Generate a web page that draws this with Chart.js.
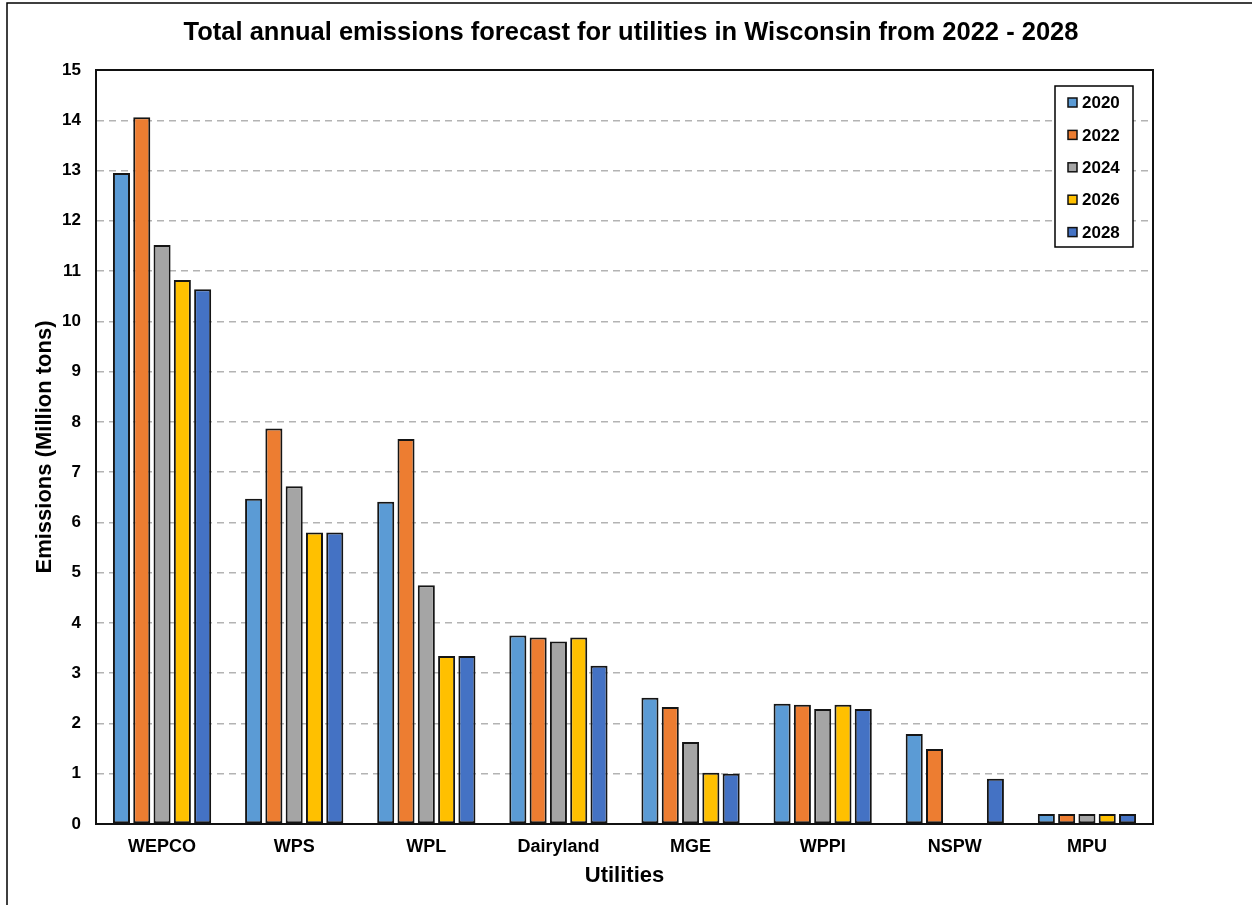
<!DOCTYPE html>
<html><head><meta charset="utf-8">
<script src="https://cdn.jsdelivr.net/npm/chart.js@4"></script>
<style>html,body{margin:0;padding:0;background:#fff;} #wrap{position:relative;width:1252px;height:905px;}</style>
</head><body><div id="wrap"><canvas id="c" width="1252" height="905"></canvas></div>
<script>
const titleText = 'Total annual emissions forecast for utilities in Wisconsin from 2022 - 2028';
const xTitle = 'Utilities';
const yTitle = 'Emissions (Million tons)';
const categories = ['WEPCO', 'WPS', 'WPL', 'Dairyland', 'MGE', 'WPPI', 'NSPW', 'MPU'];
const years = ['2020', '2022', '2024', '2026', '2028'];
const values2020 = [12.95, 6.47, 6.41, 3.75, 2.51, 2.39, 1.79, 0.20];
const values2022 = [14.06, 7.87, 7.66, 3.71, 2.33, 2.37, 1.49, 0.20];
const values2024 = [11.52, 6.72, 4.75, 3.63, 1.63, 2.29, null, 0.20];
const values2026 = [10.82, 5.80, 3.34, 3.71, 1.02, 2.37, null, 0.20];
const values2028 = [10.64, 5.80, 3.34, 3.15, 1.00, 2.29, 0.90, 0.20];
const yMin = 0, yMax = 15, yStep = 1;

const seriesValues = [values2020, values2022, values2024, values2026, values2028];
const colors = ['#5B9BD5', '#ED7D31', '#A5A5A5', '#FFC000', '#4472C4'];
const FONT = "'Liberation Sans', Arial, sans-serif";
Chart.defaults.font.family = FONT;
Chart.defaults.color = '#000';

const framePlugin = {
  id: 'frame',
  beforeDraw(chart) {
    const ctx = chart.ctx;
    ctx.save();
    ctx.fillStyle = '#fff';
    ctx.fillRect(0, 0, chart.width, chart.height);
    ctx.strokeStyle = '#000';
    ctx.lineWidth = 1.5;
    ctx.beginPath();
    ctx.moveTo(7, chart.height);
    ctx.lineTo(7, 3);
    ctx.lineTo(chart.width, 3);
    ctx.stroke();
    ctx.restore();
  },
  afterDatasetsDraw(chart) {
    const a = chart.chartArea, ctx = chart.ctx;
    ctx.save();
    ctx.strokeStyle = '#111';
    ctx.lineWidth = 2;
    ctx.strokeRect(a.left, a.top, a.right - a.left, a.bottom - a.top);
    ctx.restore();
  },
  afterDraw(chart) {
    const ctx = chart.ctx, a = chart.chartArea;
    ctx.save();
    // title
    ctx.fillStyle = '#000';
    ctx.font = "bold 25.5px " + FONT;
    ctx.textAlign = 'center';
    ctx.textBaseline = 'middle';
    ctx.fillText(titleText, 631, 33);
    // legend
    const bx = a.right - 98, by = a.top + 16, bw = 78, bh = 161;
    ctx.fillStyle = '#fff';
    ctx.fillRect(bx, by, bw, bh);
    ctx.strokeStyle = '#000';
    ctx.lineWidth = 1.5;
    ctx.strokeRect(bx, by, bw, bh);
    ctx.font = "bold 17px " + FONT;
    ctx.textAlign = 'left';
    chart.data.datasets.forEach((ds, i) => {
      const cy = by + 16.5 + i * 32.4;
      ctx.fillStyle = ds.backgroundColor;
      ctx.fillRect(bx + 13, cy - 4.5, 9, 9);
      ctx.strokeStyle = '#111';
      ctx.lineWidth = 1.5;
      ctx.strokeRect(bx + 13, cy - 4.5, 9, 9);
      ctx.fillStyle = '#000';
      ctx.fillText(ds.label, bx + 27, cy + 1);
    });
    ctx.restore();
  }
};

new Chart(document.getElementById('c'), {
  type: 'bar',
  data: {
    labels: categories,
    datasets: years.map((y, i) => ({
      label: y,
      data: seriesValues[i],
      backgroundColor: colors[i],
      borderColor: '#151515',
      borderWidth: 2,
      borderSkipped: false,
      barPercentage: 0.84,
      categoryPercentage: 0.768
    }))
  },
  options: {
    responsive: false,
    animation: false,
    devicePixelRatio: 1,
    layout: { padding: { top: 70, right: 99, left: 0, bottom: 0 } },
    plugins: { legend: { display: false }, title: { display: false }, tooltip: { enabled: false } },
    scales: {
      x: {
        grid: { display: false, drawTicks: false },
        border: { display: true, color: '#111', width: 2 },
        ticks: { font: { size: 18, weight: 'bold' }, padding: 12, color: '#000' },
        title: { display: true, text: xTitle, font: { size: 22, weight: 'bold' }, padding: { top: 0, bottom: 16 }, color: '#000' },
        afterFit(scale) { scale.height = 81; }
      },
      y: {
        min: yMin, max: yMax,
        grid: {
          drawTicks: false,
          lineWidth: 1.5,
          color: (c) => (c.tick && (c.tick.value === yMin || c.tick.value === yMax)) ? 'rgba(0,0,0,0)' : '#b3b3b3'
        },
        border: { display: true, color: '#111', width: 2, dash: [7, 5] },
        ticks: { stepSize: yStep, font: { size: 17, weight: 'bold' }, padding: 15, color: '#000' },
        title: { display: true, text: yTitle, font: { size: 22, weight: 'bold' }, padding: { top: 32, bottom: 0 }, color: '#000' },
        afterFit(scale) { scale.width = 96; }
      }
    }
  },
  plugins: [framePlugin]
});
</script>
</body></html>
